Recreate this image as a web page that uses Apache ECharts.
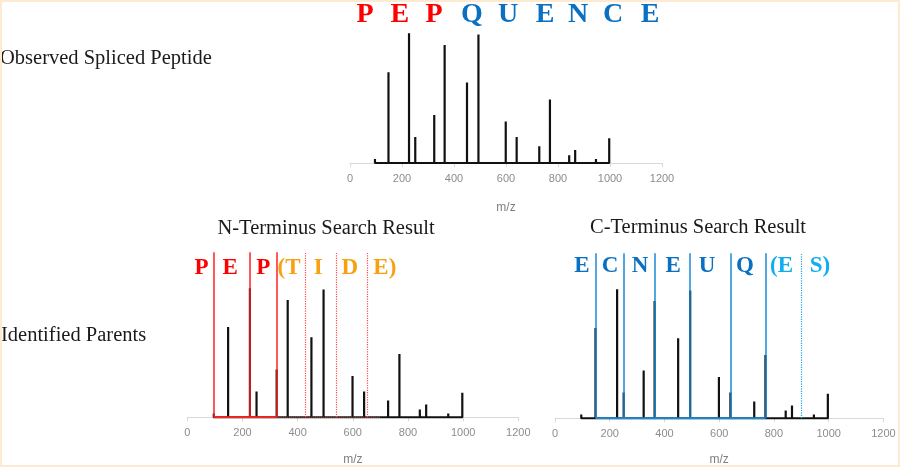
<!DOCTYPE html>
<html>
<head>
<meta charset="utf-8">
<script src="https://cdn.jsdelivr.net/npm/echarts@6/dist/echarts.min.js"></script>
<style>
html,body{margin:0;padding:0;background:#fff;}
#c{width:900px;height:467px;}
</style>
</head>
<body>
<div id="c"></div>
<script>
// ---- data ----
const mz        = [96, 148, 227, 251, 324, 364, 450, 494, 599, 641, 728, 769, 843, 866, 946, 997];
const intensity = [3,  70,  100, 20,  37,  91,  62,  99,  32,  20,  13,  49,  6,   10,  3,   19];
const xTicks = [0, 200, 400, 600, 800, 1000, 1200];

const splicedLetters = ['P','E','P','Q','U','E','N','C','E'];
const splicedLetterX = [58, 192, 323, 469, 608, 750, 877, 1012, 1154];
const splicedFromN = 3;

const nCutsFound = [96, 227, 324];
const nCutsTheory = [426, 539, 653];
const nLetters = ['P','E','P','(T','I','D','E)'];
const nLetterX = [52, 155, 275, 369, 475, 589, 716];
const nFound = 3;
const nTheoryBaseEnd = 700;

const cCutsFound = [148, 251, 364, 494, 641, 769];
const cCutsTheory = [900];
const cLetters = ['E','C','N','E','U','Q','(E','S)'];
const cLetterX = [98, 201, 311, 432, 556, 694, 828, 968];
const cFound = 6;

// ---- helpers ----
const RED = '#FF0000', ORANGE = '#F9A010', BLUE = '#0A70C2', CYAN = '#10AEEE';
const LINE_RED = '#FF2020', LINE_BLUE = '#1A8AD6';

function stick() {
  const d = [];
  for (let i = 0; i < mz.length; i++) { d.push([mz[i], 0], [mz[i], intensity[i]], [mz[i], 0]); }
  return d;
}
function xAxis(gi, gap) {
  return {
    type: 'value', gridIndex: gi, min: 0, max: 1200, interval: 200,
    name: 'm/z', nameLocation: 'middle', nameGap: gap,
    nameTextStyle: {color: '#7F7F7F', fontSize: 12, fontFamily: 'Liberation Sans'},
    axisLine: {show: true, lineStyle: {color: '#D9D9D9', width: 1}},
    axisTick: {show: true, length: 4, lineStyle: {color: '#D9D9D9'}},
    axisLabel: {color: '#8C8C8C', fontSize: 11, fontFamily: 'Liberation Sans', margin: 10,
      customValues: xTicks, formatter: v => String(v)},
    splitLine: {show: false}
  };
}
function yAxis(gi, max) {
  return {type: 'value', gridIndex: gi, min: 0, max: max, show: false, splitLine: {show: false}};
}
function spectrum(gi) {
  return {type: 'line', xAxisIndex: gi, yAxisIndex: gi, data: stick(), symbol: 'none',
    lineStyle: {color: '#111', width: 2.2}, z: 2, silent: true};
}
function letters(gi, txt, xs, y, colorFn, size) {
  return {type: 'scatter', xAxisIndex: gi, yAxisIndex: gi, clip: false, symbolSize: 1,
    itemStyle: {color: 'rgba(0,0,0,0)', opacity: 1}, z: 10, silent: true,
    label: {show: true, position: 'inside', formatter: p => p.name, opacity: 1,
      fontFamily: 'Liberation Serif', fontWeight: 'bold', fontSize: size},
    data: txt.map((t, i) => ({name: t, value: [xs[i], y], label: {color: colorFn(i)}}))};
}
function cuts(gi, xs, color, width, type) {
  return {type: 'line', xAxisIndex: gi, yAxisIndex: gi, data: [], z: 5, silent: true,
    markLine: {symbol: ['none','none'], silent: true, animation: false, label: {show: false},
      lineStyle: {color: color, width: width, type: type, opacity: 1},
      data: xs.map(x => ({xAxis: x}))}};
}
function base(gi, x0, x1, color, width, type) {
  return {type: 'line', xAxisIndex: gi, yAxisIndex: gi, data: [[x0, 0], [x1, 0]], symbol: 'none',
    lineStyle: {color: color, width: width, type: type}, z: 4, silent: true};
}

const serif = {fontFamily: 'Liberation Serif', fontWeight: 'normal', fontSize: 20.5, color: '#1a1a1a'};

const option = {
  animation: false,
  backgroundColor: '#ffffff',
  title: [
    {text: 'Observed Spliced Peptide', left: 0, top: 48, padding: 0, textStyle: serif},
    {text: 'Identified Parents', left: 1, top: 325, padding: 0, textStyle: serif},
    {text: 'N-Terminus Search Result', left: 326, top: 218, padding: 0, textAlign: 'center', textStyle: serif},
    {text: 'C-Terminus Search Result', left: 698, top: 217, padding: 0, textAlign: 'center', textStyle: serif}
  ],
  graphic: [{type: 'rect', shape: {x: 1, y: 1, width: 898, height: 465},
    style: {fill: 'none', stroke: '#FCEBD0', lineWidth: 2}, silent: true, z: 100}],
  grid: [
    {left: 350, top: 12.5, width: 312, height: 150.5},
    {left: 187.3, top: 252.2, width: 331, height: 165.1},
    {left: 555, top: 253.2, width: 328.4, height: 165.1}
  ],
  xAxis: [xAxis(0, 39), xAxis(1, 36), xAxis(2, 35)],
  yAxis: [yAxis(0, 116), yAxis(1, 128), yAxis(2, 128)],
  series: [
    spectrum(0),
    letters(0, splicedLetters, splicedLetterX, 114, i => i < splicedFromN ? RED : BLUE, 28),

    spectrum(1),
    base(1, nCutsFound[0], nCutsFound[nCutsFound.length - 1], LINE_RED, 2, 'solid'),
    base(1, nCutsFound[nCutsFound.length - 1], nTheoryBaseEnd, '#FF8080', 1, 'dotted'),
    cuts(1, nCutsFound, LINE_RED, 1.5, 'solid'),
    cuts(1, nCutsTheory, '#FF4A4A', 1.2, 'dotted'),
    letters(1, nLetters, nLetterX, 116, i => i < nFound ? RED : ORANGE, 23),

    spectrum(2),
    base(2, cCutsFound[0], cCutsFound[cCutsFound.length - 1], LINE_BLUE, 2, 'solid'),
    cuts(2, cCutsFound, LINE_BLUE, 1.5, 'solid'),
    cuts(2, cCutsTheory, '#20A8EC', 1.2, 'dotted'),
    letters(2, cLetters, cLetterX, 118, i => i < cFound ? BLUE : CYAN, 23)
  ]
};
echarts.init(document.getElementById('c')).setOption(option);
</script>
</body>
</html>
